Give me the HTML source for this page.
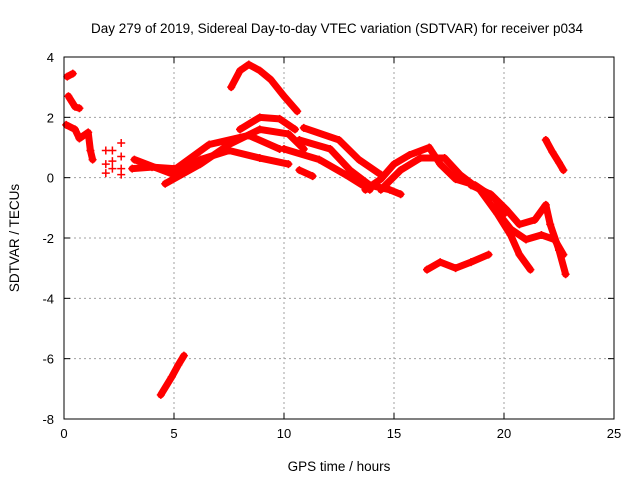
<!DOCTYPE html>
<html><head><meta charset="utf-8"><style>
body{margin:0;background:#fff}
svg{display:block;font-family:"Liberation Sans",sans-serif}
</style></head><body>
<svg id="chart" width="640" height="480"></svg>
<script>
const xTicks=[0,5,10,15,20,25];
const yTicks=[4,2,0,-2,-4,-6,-8];
const trackTop=[[7.6,3.0],[8.0,3.55],[8.4,3.75],[8.9,3.55],[9.4,3.25],[10.0,2.7],[10.6,2.2]];
const trackLow=[[4.4,-7.2],[4.9,-6.6],[5.2,-6.2],[5.45,-5.9]];
const trackRight=[[21.9,1.25],[22.2,0.85],[22.5,0.5],[22.7,0.25]];
const trackMinus3=[[16.5,-3.05],[17.1,-2.8],[17.8,-3.0],[18.5,-2.8],[19.3,-2.55]];
const trackEarly1=[[0.15,3.35],[0.4,3.45]];
const trackEarly2=[[0.2,2.7],[0.5,2.35],[0.7,2.3]];
const trackStart=[[0.1,1.75],[0.5,1.6],[0.7,1.3],[1.1,1.5],[1.2,0.9],[1.3,0.6]];
const trackM=[[3.1,0.3],[4.0,0.35],[5.0,0.3]];
const trackA=[[3.2,0.6],[5.0,0.1],[6.2,0.6],[7.5,0.9],[8.9,0.65],[10.2,0.45]];
const trackB=[[4.6,-0.2],[6.2,0.45],[7.5,1.1],[8.9,1.6],[10.2,1.45],[10.9,0.95]];
const trackC=[[8.0,1.6],[8.9,2.0],[9.8,1.95],[10.5,1.6]];
const trackD=[[5.0,0.25],[6.6,1.1],[8.4,1.4],[9.8,0.95]];
const trackE=[[10.7,1.25],[12.1,0.95],[13.0,0.25],[13.9,-0.25],[14.8,-0.4],[15.3,-0.55]];
const trackF=[[10.9,1.65],[12.5,1.25],[13.4,0.6],[14.4,0.1]];
const trackG=[[10.0,0.95],[11.6,0.6],[12.8,0.1],[13.9,-0.4]];
const trackH=[[13.7,-0.4],[14.4,-0.05],[15.0,0.45],[15.7,0.75],[16.6,1.0],[17.1,0.45],[17.8,-0.05],[18.7,-0.25],[19.6,-0.7],[20.0,-1.2]];
const trackI=[[14.4,-0.4],[15.3,0.25],[16.2,0.65],[17.3,0.65],[18.0,0.1],[18.9,-0.4],[19.7,-1.2],[20.3,-1.9],[20.7,-2.55],[21.2,-3.05]];
const trackJ=[[18.5,-0.25],[19.4,-0.55],[20.1,-1.05],[20.7,-1.55],[21.4,-1.4],[21.9,-0.9],[22.1,-1.55],[22.5,-2.4],[22.8,-3.2]];
const trackK=[[19.6,-1.05],[20.3,-1.7],[21.0,-2.05],[21.7,-1.9],[22.3,-2.05],[22.7,-2.55]];
const trackL=[[10.7,0.25],[11.3,0.05]];
const scatter=[[1.9,0.9],[1.9,0.45],[1.9,0.15],[2.2,0.55],[2.2,0.9],[2.6,1.15],[2.6,0.7],[2.6,0.3],[2.6,0.1],[2.2,0.3]];
const tracks=[trackTop,trackLow,trackRight,trackMinus3,trackEarly1,trackEarly2,trackStart,trackM,trackA,trackB,trackC,trackD,trackE,trackF,trackG,trackH,trackI,trackJ,trackK,trackL];

const L=64,R=614,T=57,B=419;
const sx=t=>L+(t-0)/(25-0)*(R-L);
const sy=v=>B-(v+8)/(12)*(B-T);
const NS="http://www.w3.org/2000/svg";
const svg=document.getElementById('chart');
function mk(tag,at,parent){const e=document.createElementNS(NS,tag);for(const k in at)e.setAttribute(k,at[k]);(parent||svg).appendChild(e);return e;}

const grid=mk('g',{});


xTicks.forEach(t=>{
  if(t>0&&t<25)mk('line',{x1:sx(t),x2:sx(t),y1:T,y2:B,stroke:'#a0a0a0','stroke-dasharray':'2,3','stroke-width':1},grid);
  mk('line',{x1:sx(t),x2:sx(t),y1:B,y2:B-6,stroke:'#000'},grid);
  mk('line',{x1:sx(t),x2:sx(t),y1:T,y2:T+6,stroke:'#000'},grid);
  const tx=mk('text',{x:sx(t),y:B+19,'text-anchor':'middle','font-size':13});
  tx.textContent=t;
  
  
});
yTicks.forEach(v=>{
  if(v<4&&v>-8)mk('line',{x1:L,x2:R,y1:sy(v),y2:sy(v),stroke:'#a0a0a0','stroke-dasharray':'2,3','stroke-width':1},grid);
  mk('line',{x1:L,x2:L+6,y1:sy(v),y2:sy(v),stroke:'#000'},grid);
  mk('line',{x1:R,x2:R-6,y1:sy(v),y2:sy(v),stroke:'#000'},grid);
  const tx=mk('text',{x:L-10,y:sy(v)+5,'text-anchor':'end','font-size':13});
  tx.textContent=v;
  
  
});

const series=mk('g',{fill:'none',stroke:'#ff0000'});


tracks.forEach(tr=>{
  const p=mk('polyline',{points:tr.map(d=>sx(d[0])+','+sy(d[1])).join(' '),'stroke-width':7,'stroke-linejoin':'round','stroke-linecap':'round'},series);
  
  
});
tracks.concat([scatter]).forEach(tr=>tr.forEach(d=>{
  const x=sx(d[0]),y=sy(d[1]);
  const m=mk('path',{d:`M${x-4},${y}H${x+4}M${x},${y-4}V${y+4}`,'stroke-width':1.5},series);
  
  
}));

const frame=mk('rect',{x:L,y:T,width:R-L,height:B-T,fill:'none',stroke:'#000'});



const title=mk('text',{x:337,y:33,'text-anchor':'middle','font-size':13.5});
title.textContent='Day 279 of 2019, Sidereal Day-to-day VTEC variation (SDTVAR) for receiver p034';


const xl=mk('text',{x:339,y:471,'text-anchor':'middle','font-size':13.5});
xl.textContent='GPS time / hours';


const yl=mk('text',{x:0,y:0,'text-anchor':'middle','font-size':13.5,transform:'translate(19,238) rotate(-90)'});
yl.textContent='SDTVAR / TECUs';


</script>
</body></html>
